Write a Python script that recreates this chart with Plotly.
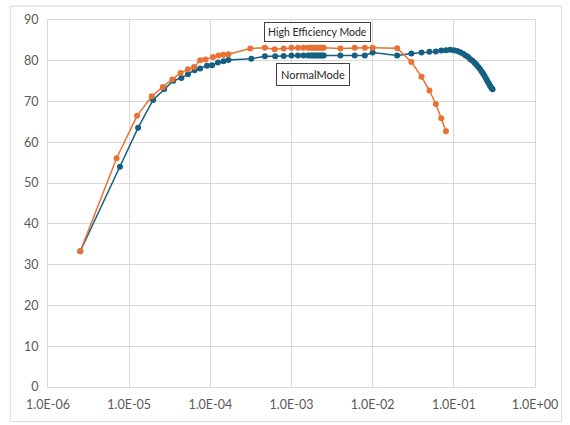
import plotly.graph_objects as go

# Efficiency (%) versus load current (A), two operating modes
high_eff_x = [2.5e-6, 7e-6, 1.25e-5, 1.9e-5, 2.6e-5, 3.4e-5, 4.3e-5, 5.3e-5, 6.3e-5,
              7.5e-5, 8.7e-5, 1.08e-4, 1.26e-4, 1.45e-4, 1.67e-4,
              3.1e-4, 4.7e-4, 6.2e-4, 8e-4,
              1.0e-3, 1.2e-3, 1.4e-3, 1.6e-3, 1.7e-3, 1.8e-3, 1.9e-3, 2.0e-3,
              2.1e-3, 2.2e-3, 2.3e-3, 2.4e-3, 2.5e-3,
              4e-3, 6e-3, 8e-3, 1e-2,
              2e-2, 3e-2, 4e-2, 5e-2, 6e-2, 7e-2, 8e-2]
high_eff_y = [33.3, 56.1, 66.5, 71.3, 73.6, 75.4, 77.0, 77.9, 78.5,
              80.1, 80.3, 80.9, 81.3, 81.5, 81.6,
              83.0, 83.2, 82.8, 83.0,
              83.2, 83.2, 83.2, 83.2, 83.2, 83.2, 83.2, 83.2,
              83.2, 83.2, 83.2, 83.2, 83.2,
              83.0, 83.2, 83.2, 83.2,
              83.1, 79.7, 76.1, 72.7, 69.4, 65.9, 62.7]

normal_x = [2.5e-6, 7.7e-6, 1.29e-5, 1.97e-5, 2.7e-5, 3.5e-5, 4.4e-5, 5.3e-5, 6.4e-5,
            7.5e-5, 9.1e-5, 1.05e-4, 1.24e-4, 1.45e-4, 1.67e-4,
            3.2e-4, 4.7e-4, 6.3e-4, 8e-4,
            1.0e-3, 1.2e-3, 1.4e-3, 1.6e-3, 1.7e-3, 1.8e-3, 1.9e-3, 2.0e-3,
            2.1e-3, 2.2e-3, 2.3e-3, 2.4e-3, 2.5e-3,
            4e-3, 6e-3, 8e-3, 1e-2,
            2e-2, 3e-2, 4e-2, 5e-2,
            0.06, 0.07, 0.08, 0.09, 0.10, 0.11, 0.12, 0.13, 0.14, 0.15,
            0.16, 0.17, 0.18, 0.19, 0.20, 0.21, 0.22, 0.23, 0.24, 0.25,
            0.26, 0.27, 0.28, 0.29, 0.30]
normal_y = [33.3, 54.0, 63.6, 70.4, 73.1, 75.1, 75.8, 76.7, 77.7,
            78.1, 78.8, 78.9, 79.6, 79.9, 80.2,
            80.5, 81.1, 81.1, 81.2,
            81.3, 81.3, 81.3, 81.3, 81.3, 81.3, 81.3, 81.3,
            81.3, 81.3, 81.3, 81.3, 81.3,
            81.3, 81.3, 81.3, 82.0,
            81.3, 81.8, 82.0, 82.2,
            82.3, 82.5, 82.6, 82.7, 82.6, 82.4, 82.1, 81.7, 81.3, 80.9,
            80.4, 80.0, 79.5, 79.0, 78.5, 78.0, 77.4, 76.8, 76.2, 75.6,
            75.0, 74.4, 73.8, 73.4, 73.0]

x_tick_vals = [1e-6, 1e-5, 1e-4, 1e-3, 1e-2, 1e-1, 1e0]
x_tick_text = ["1.0E-06", "1.0E-05", "1.0E-04", "1.0E-03", "1.0E-02", "1.0E-01", "1.0E+00"]

BLUE = "#156082"
ORANGE = "#E97132"
GRID = "#D9D9D9"
TICK_FONT = dict(family="Lato, Open Sans, sans-serif", size=12.5, color="#595959")

fig = go.Figure()
fig.add_trace(go.Scatter(
    x=normal_x, y=normal_y, mode="lines+markers", name="NormalMode",
    line=dict(color=BLUE, width=1.5),
    marker=dict(color=BLUE, size=6),
))
fig.add_trace(go.Scatter(
    x=high_eff_x, y=high_eff_y, mode="lines+markers", name="High Efficiency Mode",
    line=dict(color=ORANGE, width=1.5),
    marker=dict(color=ORANGE, size=6),
))

W, H = 570, 425
L, R, T, B = 48.4, 31.8, 16, 38
pw, ph = W - L - R, H - T - B


def px(xp):
    return (xp - L) / pw


def py(yp):
    return (H - B - yp) / ph


fig.update_layout(
    width=W, height=H,
    margin=dict(l=L, r=R, t=T, b=B),
    paper_bgcolor="white", plot_bgcolor="white",
    showlegend=False,
    xaxis=dict(
        type="log", range=[-6, 0],
        tickvals=x_tick_vals, ticktext=x_tick_text,
        showgrid=True, gridcolor=GRID, gridwidth=1,
        showline=True, linecolor=GRID, linewidth=1, mirror=True,
        ticks="", tickfont=TICK_FONT, ticklabelstandoff=6,
        zeroline=False,
    ),
    yaxis=dict(
        range=[0, 90], dtick=10,
        showgrid=True, gridcolor=GRID, gridwidth=1,
        showline=True, linecolor=GRID, linewidth=1, mirror=True,
        ticks="", tickfont=TICK_FONT, ticklabelstandoff=6,
        zeroline=False,
    ),
    annotations=[
        dict(text="High Efficiency Mode", xref="paper", yref="paper",
             x=px(319.5), y=py(28), xanchor="center", yanchor="middle",
             showarrow=False,
             font=dict(family="Lato, sans-serif", size=10.5, color="#262626"),
             bgcolor="white", bordercolor="#404040", borderwidth=1, borderpad=3),
        dict(text="NormalMode", xref="paper", yref="paper",
             x=px(315), y=py(71.5), xanchor="center", yanchor="middle",
             showarrow=False,
             font=dict(family="Lato, sans-serif", size=11, color="#262626"),
             bgcolor="white", bordercolor="#404040", borderwidth=1, borderpad=4),
    ],
    shapes=[
        dict(type="rect", xref="paper", yref="paper",
             x0=px(10.5), x1=px(565), y0=py(422), y1=py(2),
             line=dict(color=GRID, width=1), fillcolor="rgba(0,0,0,0)", layer="below"),
    ],
)

fig.write_html("out.html")
